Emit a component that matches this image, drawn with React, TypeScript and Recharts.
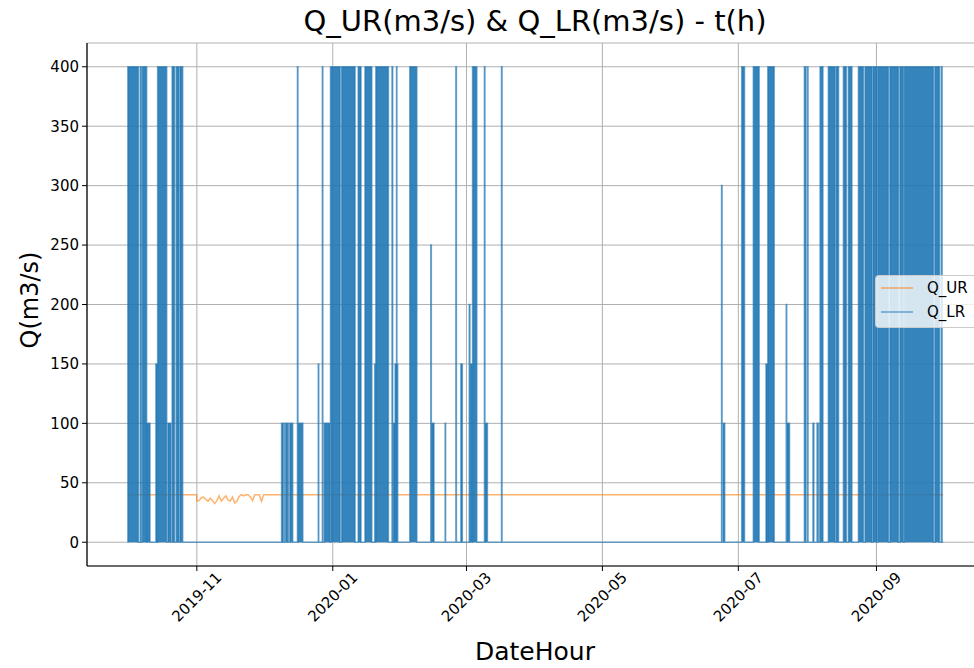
import { ComposedChart, Area, XAxis, YAxis, CartesianGrid } from 'recharts';

// hourly record, Q_UR and Q_LR in m3/s
const PERIOD_START = '2019-10-01 00';
const PERIOD_END = '2020-09-30 23';

// Q_UR holds 40 except for the noisy stretch in November
const UR_BASE = 40;
const UR_NOISE_START = '2019-11-01 00';
const UR_NOISE_END = '2019-12-01 00';
const urNovDaily = [
  34.6, 35, 37.4, 37.9, 36, 34.6, 37, 35, 32.5, 35,
  39, 34.6, 37, 39, 35.5, 34.6, 38, 33, 34.6, 38.5,
  40, 39, 40, 40, 38, 35, 40, 40, 40, 34.6,
];

// Q_LR release periods: [from, to, value], 0 outside them
const lrBlocks: [string, string, number][] = [
  ['2019-10-01 01', '2019-10-05 18', 400],
  ['2019-10-06 16', '2019-10-07 02', 400],
  ['2019-10-07 13', '2019-10-09 10', 400],
  ['2019-10-09 12', '2019-10-10 22', 100],
  ['2019-10-13 15', '2019-10-14 08', 150],
  ['2019-10-14 10', '2019-10-18 10', 400],
  ['2019-10-19 00', '2019-10-20 08', 100],
  ['2019-10-20 22', '2019-10-21 22', 400],
  ['2019-10-22 19', '2019-10-23 22', 400],
  ['2019-10-24 09', '2019-10-25 14', 400],
  ['2019-12-09 01', '2019-12-09 18', 100],
  ['2019-12-10 06', '2019-12-10 08', 100],
  ['2019-12-10 20', '2019-12-11 18', 100],
  ['2019-12-12 02', '2019-12-12 04', 100],
  ['2019-12-12 18', '2019-12-13 23', 100],
  ['2019-12-16 04', '2019-12-16 08', 400],
  ['2019-12-16 10', '2019-12-18 12', 100],
  ['2019-12-25 12', '2019-12-25 16', 150],
  ['2019-12-27 08', '2019-12-27 12', 400],
  ['2019-12-28 04', '2019-12-30 17', 100],
  ['2019-12-31 00', '2020-01-04 05', 400],
  ['2020-01-04 23', '2020-01-10 23', 400],
  ['2020-01-12 10', '2020-01-13 15', 400],
  ['2020-01-15 11', '2020-01-18 11', 400],
  ['2020-01-19 20', '2020-01-20 06', 150],
  ['2020-01-20 08', '2020-01-25 22', 400],
  ['2020-01-27 14', '2020-01-27 20', 400],
  ['2020-01-28 04', '2020-01-28 22', 100],
  ['2020-01-29 00', '2020-01-29 14', 150],
  ['2020-01-29 15', '2020-01-29 18', 400],
  ['2020-01-29 19', '2020-01-30 02', 150],
  ['2020-02-04 14', '2020-02-07 16', 400],
  ['2020-02-14 00', '2020-02-14 04', 250],
  ['2020-02-14 07', '2020-02-15 09', 100],
  ['2020-02-20 10', '2020-02-20 14', 100],
  ['2020-02-25 06', '2020-02-25 10', 400],
  ['2020-02-27 12', '2020-02-28 02', 150],
  ['2020-03-02 06', '2020-03-02 12', 200],
  ['2020-03-02 16', '2020-03-03 16', 150],
  ['2020-03-03 18', '2020-03-05 14', 400],
  ['2020-03-09 02', '2020-03-09 06', 400],
  ['2020-03-09 08', '2020-03-10 08', 100],
  ['2020-03-16 18', '2020-03-16 22', 400],
  ['2020-06-23 12', '2020-06-23 16', 300],
  ['2020-06-24 04', '2020-06-24 20', 100],
  ['2020-07-02 13', '2020-07-03 17', 400],
  ['2020-07-07 18', '2020-07-10 07', 400],
  ['2020-07-13 10', '2020-07-14 04', 150],
  ['2020-07-14 06', '2020-07-17 01', 400],
  ['2020-07-22 12', '2020-07-22 16', 200],
  ['2020-07-22 20', '2020-07-23 22', 100],
  ['2020-07-30 16', '2020-07-31 06', 400],
  ['2020-08-01 02', '2020-08-01 06', 400],
  ['2020-08-03 12', '2020-08-03 20', 100],
  ['2020-08-05 08', '2020-08-05 14', 100],
  ['2020-08-06 02', '2020-08-06 06', 100],
  ['2020-08-06 17', '2020-08-07 22', 400],
  ['2020-08-10 10', '2020-08-13 10', 400],
  ['2020-08-13 22', '2020-08-14 22', 400],
  ['2020-08-17 04', '2020-08-18 10', 400],
  ['2020-08-19 10', '2020-08-20 22', 400],
  ['2020-08-23 22', '2020-08-26 02', 400],
  ['2020-08-26 22', '2020-08-29 22', 400],
  ['2020-08-30 08', '2020-09-01 04', 400],
  ['2020-09-01 12', '2020-09-06 08', 400],
  ['2020-09-07 02', '2020-09-10 20', 400],
  ['2020-09-11 14', '2020-09-13 02', 400],
  ['2020-09-13 12', '2020-09-26 13', 400],
  ['2020-09-27 07', '2020-09-29 06', 400],
  ['2020-09-30 04', '2020-09-30 10', 400],
];

const monthTicks = ['2019-11-01 00', '2020-01-01 00', '2020-03-01 00', '2020-05-01 00', '2020-07-01 00', '2020-09-01 00'];
const yTicks = [0, 50, 100, 150, 200, 250, 300, 350, 400];

const HOUR = 3600000;
const BLUE = '#1f77b4';
const ORANGE = '#ff7f0e';
const FONT = 'DejaVu Sans';

function toMs(s: string) {
  const [d, h] = s.split(' ');
  const [y, m, dd] = d.split('-').map(Number);
  return Date.UTC(y, m - 1, dd, Number(h || 0));
}

const tStart = toMs(PERIOD_START);
const tEnd = toMs(PERIOD_END);
const pad = (tEnd - tStart) * 0.05;
const xDomain = [tStart - pad, tEnd + pad];

const urData = [
  { t: tStart, v: UR_BASE },
  { t: toMs(UR_NOISE_START) - HOUR, v: UR_BASE },
  ...urNovDaily.map((v, i) => ({ t: toMs(UR_NOISE_START) + i * 24 * HOUR, v })),
  { t: toMs(UR_NOISE_END), v: UR_BASE },
  { t: tEnd, v: UR_BASE },
];

const lrData: { t: number; v: number }[] = [{ t: tStart, v: 0 }];
lrBlocks.forEach(([a, b, v]) => {
  lrData.push({ t: toMs(a), v });
  lrData.push({ t: toMs(b) + HOUR, v: 0 });
});
lrData.push({ t: tEnd, v: 0 });

const fmtMonth = (v: number) => {
  const d = new Date(v);
  return `${d.getUTCFullYear()}-${String(d.getUTCMonth() + 1).padStart(2, '0')}`;
};

function XTick(props: any) {
  const { x, y, payload } = props;
  const cy = y + 24;
  return (
    <text x={x} y={cy} textAnchor="middle" dominantBaseline="central" fontSize={15} fill="#000"
      fontFamily={FONT} transform={`rotate(-45 ${x} ${cy})`}>
      {fmtMonth(payload.value)}
    </text>
  );
}

export default function App() {
  return (
    <div style={{ position: 'absolute', left: 0, top: 0, width: 974, height: 668, overflow: 'hidden', background: '#fff' }}>
      <ComposedChart width={1000} height={668} margin={{ top: 43, right: 16, bottom: 0, left: 0 }}>
        <CartesianGrid stroke="#b0b0b0" strokeWidth={1} />
        <XAxis dataKey="t" type="number" domain={xDomain} allowDataOverflow ticks={monthTicks.map(toMs)}
          interval={0} height={102} tickSize={5} tickMargin={2} tick={<XTick />}
          axisLine={{ stroke: '#000', strokeWidth: 1.2 }} tickLine={{ stroke: '#000' }} />
        <XAxis xAxisId="top" orientation="top" dataKey="t" type="number" domain={xDomain} allowDataOverflow
          height={0} tick={false} tickLine={false} axisLine={{ stroke: '#000', strokeWidth: 1.2 }} />
        <YAxis type="number" domain={[-20, 420]} ticks={yTicks} allowDataOverflow interval={0} width={87}
          tickSize={5} tickMargin={3} tick={{ fontSize: 15, fill: '#000', fontFamily: FONT }}
          axisLine={{ stroke: '#000', strokeWidth: 1.2 }} tickLine={{ stroke: '#000' }} />
        <Area data={urData} dataKey="v" type="linear" fill="none" stroke={ORANGE} strokeOpacity={0.6}
          strokeWidth={1.5} dot={false} activeDot={false} isAnimationActive={false} />
        <Area data={lrData} dataKey="v" type="stepAfter" fill={BLUE} fillOpacity={0.9} stroke={BLUE}
          strokeOpacity={0.6} strokeWidth={1.6} dot={false} activeDot={false} isAnimationActive={false} />
      </ComposedChart>
      <svg width={974} height={668} style={{ position: 'absolute', left: 0, top: 0, pointerEvents: 'none' }}
        fontFamily={FONT}>
        <text x={535} y={31} textAnchor="middle" fontSize={29} fill="#000">Q_UR(m3/s) &amp; Q_LR(m3/s) - t(h)</text>
        <text x={535} y={660} textAnchor="middle" fontSize={25} fill="#000">DateHour</text>
        <text x={38} y={300} textAnchor="middle" fontSize={24} fill="#000" transform="rotate(-90 38 300)">Q(m3/s)</text>
        <rect x={875.5} y={275.5} width={120} height={52} rx={3} fill="#fff" fillOpacity={0.8} stroke="#cccccc" />
        <line x1={881} x2={913} y1={288} y2={288} stroke={ORANGE} strokeOpacity={0.6} strokeWidth={1.6} />
        <line x1={881} x2={913} y1={312} y2={312} stroke={BLUE} strokeOpacity={0.6} strokeWidth={1.6} />
        <text x={927} y={288} dominantBaseline="central" fontSize={15} fill="#000">Q_UR</text>
        <text x={927} y={312} dominantBaseline="central" fontSize={15} fill="#000">Q_LR</text>
      </svg>
    </div>
  );
}
